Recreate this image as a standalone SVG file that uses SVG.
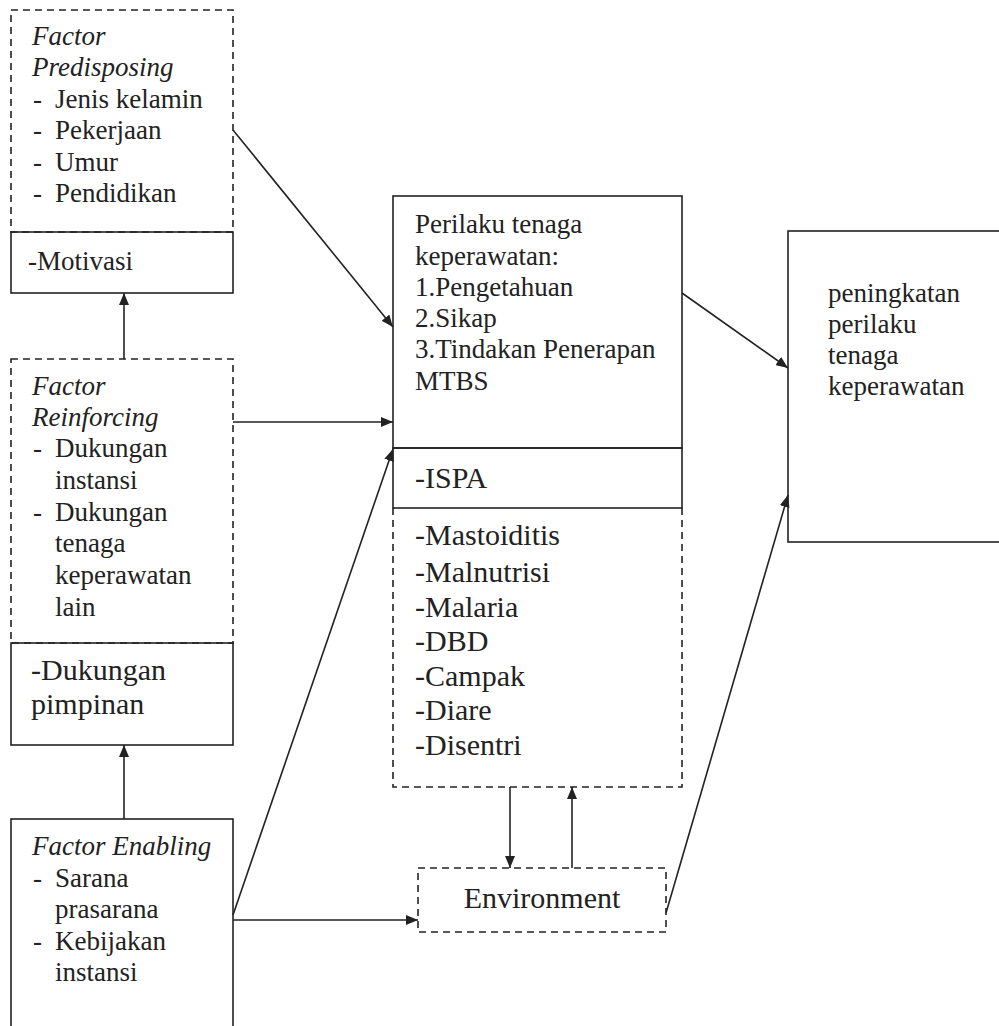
<svg xmlns="http://www.w3.org/2000/svg" width="999" height="1026" viewBox="0 0 999 1026">
<defs>
<marker id="ah" viewBox="0 0 12 10" refX="12" refY="5" markerWidth="12" markerHeight="10" markerUnits="userSpaceOnUse" orient="auto">
<path d="M0,0 L12,5 L0,10 Z" fill="#222"/>
</marker>
<style>
.solid{fill:none;stroke:#222;stroke-width:1.6}
.dash{fill:none;stroke:#222;stroke-width:1.6;stroke-dasharray:7 5}
.t{font-family:"Liberation Serif","Times New Roman",serif;font-size:27px;fill:#222}
.big{font-size:30px}
.it{font-style:italic}
.con{fill:none;stroke:#222;stroke-width:1.6;marker-end:url(#ah)}
</style>
</defs>
<rect width="999" height="1026" fill="#fff"/>

<g id="predisposing">
<rect class="dash" x="11" y="10" width="222" height="222"/>
<text class="t it" x="32" y="45">Factor</text>
<text class="t it" x="32" y="76">Predisposing</text>
<text class="t" x="33" y="108">-</text><text class="t" x="55" y="108">Jenis kelamin</text>
<text class="t" x="33" y="139">-</text><text class="t" x="55" y="139">Pekerjaan</text>
<text class="t" x="33" y="171">-</text><text class="t" x="55" y="171">Umur</text>
<text class="t" x="33" y="202">-</text><text class="t" x="55" y="202">Pendidikan</text>
</g>
<g id="motivasi">
<rect class="solid" x="11" y="232" width="222" height="61"/>
<text class="t" x="28" y="270">-Motivasi</text>
</g>

<g id="reinforcing">
<rect class="dash" x="11" y="359" width="222" height="284"/>
<text class="t it" x="32" y="395">Factor</text>
<text class="t it" x="32" y="426">Reinforcing</text>
<text class="t" x="33" y="457">-</text><text class="t" x="55" y="457">Dukungan</text>
<text class="t" x="55" y="489">instansi</text>
<text class="t" x="33" y="521">-</text><text class="t" x="55" y="521">Dukungan</text>
<text class="t" x="55" y="552">tenaga</text>
<text class="t" x="55" y="584">keperawatan</text>
<text class="t" x="55" y="616">lain</text>
</g>
<g id="pimpinan">
<rect class="solid" x="11" y="643" width="222" height="102"/>
<text class="t big" x="31" y="680">-Dukungan</text>
<text class="t big" x="31" y="714">pimpinan</text>
</g>

<g id="enabling">
<rect class="solid" x="11" y="819" width="222" height="230"/>
<text class="t it" x="32" y="855">Factor Enabling</text>
<text class="t" x="33" y="887">-</text><text class="t" x="55" y="887">Sarana</text>
<text class="t" x="55" y="918">prasarana</text>
<text class="t" x="33" y="950">-</text><text class="t" x="55" y="950">Kebijakan</text>
<text class="t" x="55" y="981">instansi</text>
</g>

<g id="perilaku">
<rect class="solid" x="393" y="196" width="289" height="252"/>
<text class="t" x="415" y="233">Perilaku tenaga</text>
<text class="t" x="415" y="265">keperawatan:</text>
<text class="t" x="415" y="296">1.Pengetahuan</text>
<text class="t" x="415" y="327">2.Sikap</text>
<text class="t" x="415" y="358">3.Tindakan Penerapan</text>
<text class="t" x="415" y="390">MTBS</text>
</g>
<g id="ispa">
<rect class="solid" x="393" y="448" width="289" height="60"/>
<text class="t big" x="415" y="488">-ISPA</text>
</g>
<g id="penyakit">
<path class="dash" d="M393,508 V787 H682 V508"/>
<text class="t big" x="415" y="545">-Mastoiditis</text>
<text class="t big" x="415" y="582">-Malnutrisi</text>
<text class="t big" x="415" y="617">-Malaria</text>
<text class="t big" x="415" y="651">-DBD</text>
<text class="t big" x="415" y="686">-Campak</text>
<text class="t big" x="415" y="720">-Diare</text>
<text class="t big" x="415" y="755">-Disentri</text>
</g>

<g id="environment">
<rect class="dash" x="418" y="868" width="248" height="64"/>
<text class="t big" x="542" y="908" text-anchor="middle">Environment</text>
</g>

<g id="peningkatan">
<rect class="solid" x="788" y="231" width="240" height="311"/>
<text class="t" x="828" y="302">peningkatan</text>
<text class="t" x="828" y="333">perilaku</text>
<text class="t" x="828" y="364">tenaga</text>
<text class="t" x="828" y="395">keperawatan</text>
</g>

<g id="connectors">
<line class="con" x1="124" y1="359" x2="124" y2="293"/>
<line class="con" x1="124" y1="819" x2="124" y2="745"/>
<line class="con" x1="233" y1="130" x2="393" y2="327"/>
<line class="con" x1="233" y1="422" x2="393" y2="422"/>
<line class="con" x1="233" y1="915" x2="393" y2="449"/>
<line class="con" x1="233" y1="920" x2="418" y2="920"/>
<line class="con" x1="510" y1="787" x2="510" y2="868"/>
<line class="con" x1="572" y1="868" x2="572" y2="787"/>
<line class="con" x1="682" y1="293" x2="788" y2="368"/>
<line class="con" x1="666" y1="913" x2="788" y2="495"/>
</g>
</svg>
